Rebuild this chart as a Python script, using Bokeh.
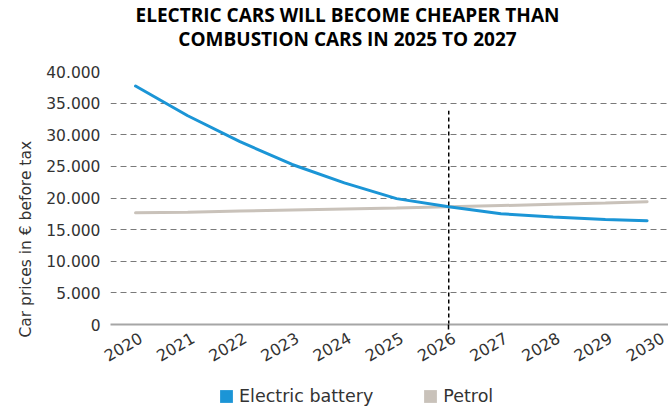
import math
from bokeh.plotting import figure
from bokeh.layouts import column
from bokeh.models import (Range1d, FixedTicker, CustomJSTickFormatter, Title, Legend, LegendItem, Label)
from bokeh.embed import file_html
from bokeh.resources import INLINE

# ---- data ----
years_electric = [2020, 2021, 2022, 2023, 2024, 2025, 2026, 2027, 2028, 2029, 2029.8]
electric_battery = [37700, 33000, 28900, 25300, 22400, 19900, 18600, 17500, 17000, 16600, 16400]
years_petrol = [2020, 2021, 2022, 2023, 2024, 2025, 2026, 2027, 2028, 2029, 2029.8]
petrol = [17650, 17750, 17950, 18100, 18250, 18400, 18600, 18800, 19000, 19200, 19400]
tick_years = [2020, 2021, 2022, 2023, 2024, 2025, 2026, 2027, 2028, 2029, 2030]
y_ticks = [0, 5000, 10000, 15000, 20000, 25000, 30000, 35000, 40000]
parity_year = 2026
parity_line_top = 33800

title_line1 = "ELECTRIC CARS WILL BECOME CHEAPER THAN"
title_line2 = "COMBUSTION CARS IN 2025 TO 2027"
y_label = "Car prices in € before tax"
series_names = ["Electric battery", "Petrol"]
series_colors = ["#1b95d6", "#c9c2ba"]

TEXT = "#333333"
BODY_FONT = "DejaVu Sans"
W = 668
FRAME_LEFT = 110


def bare(height):
    # strip whose frame is aligned with the main chart's frame; data units = pixels
    f = figure(width=W, height=height, output_backend="svg", toolbar_location=None, title=None,
               x_axis_type=None, y_axis_type=None, x_range=Range1d(FRAME_LEFT, W),
               y_range=Range1d(0, height), min_border=0, outline_line_color=None,
               background_fill_color="white", border_fill_color="white")
    f.xgrid.visible = False
    f.ygrid.visible = False
    return f


# ---- title strip ----
head = bare(50)
for txt, yv in [(title_line1, 36), (title_line2, 12)]:
    head.add_layout(Label(x=347, y=yv, text=txt, text_align="center", text_baseline="alphabetic",
                          text_font="Open Sans", text_font_size="19px", text_font_style="bold",
                          text_color="black"))

# ---- main chart ----
label_shift = 0.1  # small rightward nudge of the year labels
p = figure(width=W, height=330, output_backend="svg", toolbar_location=None, title=None,
           x_range=Range1d(2019.52, 2030.21), y_range=Range1d(0, 40000),
           min_border_left=FRAME_LEFT, min_border_right=0, min_border_top=21, min_border_bottom=56,
           outline_line_color=None, background_fill_color="white", border_fill_color="white")

xa = p.xaxis[0]
xa.ticker = FixedTicker(ticks=[y + label_shift for y in tick_years], minor_ticks=[parity_year])
xa.formatter = CustomJSTickFormatter(code="return Math.round(tick).toString();")
xa.major_label_orientation = math.pi / 6
xa.major_label_text_font = BODY_FONT
xa.major_label_text_font_size = "16px"
xa.major_label_text_color = TEXT
xa.major_tick_line_color = None
xa.minor_tick_line_color = "black"
xa.minor_tick_line_width = 1.5
xa.minor_tick_out = 5
xa.minor_tick_in = 0
xa.axis_line_color = "#a6a6a6"
xa.axis_line_width = 2
xa.major_label_standoff = 6

ya = p.yaxis[0]
ya.ticker = FixedTicker(ticks=y_ticks)
ya.formatter = CustomJSTickFormatter(code="return tick.toFixed(0).replace(/\\B(?=(\\d{3})+(?!\\d))/g, '.');")
ya.major_label_text_font = BODY_FONT
ya.major_label_text_font_size = "15.5px"
ya.major_label_text_color = TEXT
ya.axis_line_color = None
ya.major_tick_line_color = None
ya.major_tick_out = 0
ya.major_tick_in = 0
ya.minor_tick_line_color = None
ya.major_label_standoff = 10

p.add_layout(Title(text=y_label, text_font=BODY_FONT, text_font_size="15.5px",
                   text_font_style="normal", text_color=TEXT, align="left", offset=-13,
                   standoff=18), "left")

p.xgrid.grid_line_color = None
p.ygrid.ticker = FixedTicker(ticks=y_ticks[1:])
p.ygrid.grid_line_color = "#7a7a7a"
p.ygrid.grid_line_dash = "6 4"
p.ygrid.grid_line_width = 1

p.line(years_petrol, petrol, line_color=series_colors[1], line_width=3, line_cap="round")
p.line(years_electric, electric_battery, line_color=series_colors[0], line_width=3, line_cap="round")

p.segment(x0=[parity_year], y0=[0], x1=[parity_year], y1=[parity_line_top],
          line_color="black", line_width=1.5, line_dash="4 3")

# ---- legend strip ----
foot = bare(29)
nan = float("nan")
sw_e = foot.quad(left=[nan], right=[nan], top=[nan], bottom=[nan], fill_color=series_colors[0], line_color=None)
sw_p = foot.quad(left=[nan], right=[nan], top=[nan], bottom=[nan], fill_color=series_colors[1], line_color=None)
legend = Legend(items=[LegendItem(label=series_names[0], renderers=[sw_e]),
                       LegendItem(label=series_names[1], renderers=[sw_p])],
                orientation="horizontal", location=(108, 3),
                glyph_width=16, glyph_height=16, label_standoff=5, spacing=49,
                label_height=16, padding=0, margin=0, border_line_color=None,
                background_fill_alpha=0,
                label_text_font=BODY_FONT, label_text_font_size="17.5px", label_text_color=TEXT)
foot.add_layout(legend)

layout = column(head, p, foot, spacing=0)
open("out.html", "w").write(file_html(layout, INLINE))
